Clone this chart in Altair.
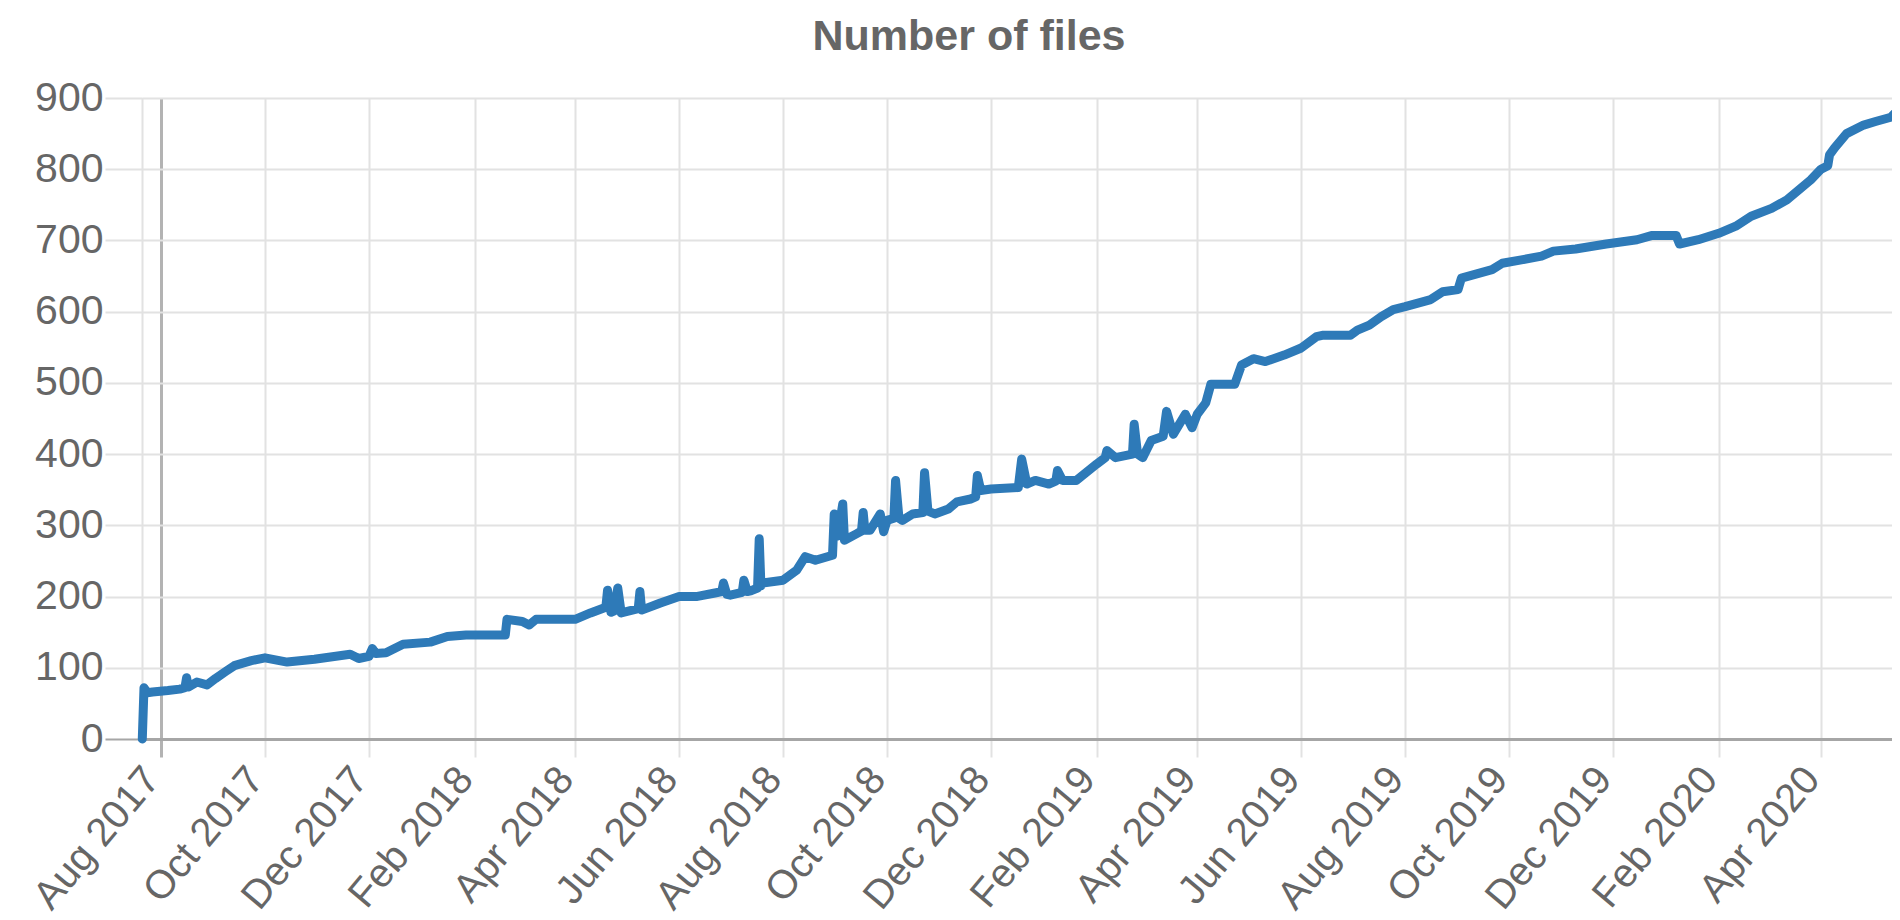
import altair as alt
import pandas as pd

FONT = "Liberation Sans"

dates = [
    "2017-07-21", "2017-07-22", "2017-07-24", "2017-07-27", "2017-08-05", "2017-08-12",
    "2017-08-15", "2017-08-16", "2017-08-17", "2017-08-22", "2017-08-28", "2017-09-02",
    "2017-09-08", "2017-09-13", "2017-09-23", "2017-10-01", "2017-10-14", "2017-10-30",
    "2017-11-20", "2017-11-25", "2017-12-01", "2017-12-03", "2017-12-05", "2017-12-11",
    "2017-12-21", "2018-01-06", "2018-01-16", "2018-01-27", "2018-02-19", "2018-02-20",
    "2018-03-01", "2018-03-05", "2018-03-09", "2018-04-01", "2018-04-10", "2018-04-19",
    "2018-04-20", "2018-04-22", "2018-04-24", "2018-04-26", "2018-04-28", "2018-05-08",
    "2018-05-09", "2018-05-10", "2018-05-21", "2018-06-01", "2018-06-11", "2018-06-22",
    "2018-06-26", "2018-06-27", "2018-06-29", "2018-07-01", "2018-07-08", "2018-07-09",
    "2018-07-11", "2018-07-13", "2018-07-17", "2018-07-18", "2018-07-19", "2018-07-20",
    "2018-08-01", "2018-08-09", "2018-08-14", "2018-08-20", "2018-08-30", "2018-08-31",
    "2018-09-02", "2018-09-05", "2018-09-06", "2018-09-13", "2018-09-16", "2018-09-17",
    "2018-09-18", "2018-09-21", "2018-09-27", "2018-09-29", "2018-10-01", "2018-10-05",
    "2018-10-06", "2018-10-08", "2018-10-10", "2018-10-16", "2018-10-22", "2018-10-23",
    "2018-10-25", "2018-10-29", "2018-11-06", "2018-11-11", "2018-11-19", "2018-11-22",
    "2018-11-23", "2018-11-25", "2018-12-01", "2018-12-17", "2018-12-19", "2018-12-22",
    "2018-12-27", "2019-01-04", "2019-01-08", "2019-01-09", "2019-01-12", "2019-01-20",
    "2019-02-01", "2019-02-06", "2019-02-07", "2019-02-12", "2019-02-22", "2019-02-23",
    "2019-02-25", "2019-02-28", "2019-03-05", "2019-03-12", "2019-03-14", "2019-03-18",
    "2019-03-25", "2019-03-29", "2019-04-01", "2019-04-06", "2019-04-09", "2019-04-23",
    "2019-04-27", "2019-05-04", "2019-05-11", "2019-05-22", "2019-06-01", "2019-06-10",
    "2019-06-14", "2019-06-30", "2019-07-04", "2019-07-11", "2019-07-18", "2019-07-25",
    "2019-08-01", "2019-08-16", "2019-08-23", "2019-09-01", "2019-09-03", "2019-09-12",
    "2019-09-21", "2019-09-27", "2019-10-09", "2019-10-20", "2019-10-27", "2019-11-09",
    "2019-11-27", "2019-12-15", "2019-12-24", "2020-01-07", "2020-01-09", "2020-01-20",
    "2020-02-01", "2020-02-11", "2020-02-20", "2020-03-03", "2020-03-12", "2020-03-19",
    "2020-03-26", "2020-04-01", "2020-04-05", "2020-04-06", "2020-04-09", "2020-04-16",
    "2020-04-26", "2020-05-03", "2020-05-12", "2020-05-15", "2020-05-17",
]

files = [
    0, 72, 65, 66, 68, 70,
    72, 86, 73, 80, 76, 85,
    95, 103, 110, 114, 108, 112,
    119, 113, 116, 127, 120, 121,
    133, 136, 144, 146, 146, 168,
    165, 160, 168, 168, 177, 185,
    209, 178, 180, 212, 177, 183,
    207, 181, 191, 200, 200, 205,
    207, 219, 203, 202, 206, 223,
    207, 208, 212, 281, 215, 219,
    223, 237, 256, 251, 258, 316,
    285, 330, 279, 288, 292, 318,
    293, 293, 316, 291, 307, 310,
    363, 310, 307, 316, 318, 374,
    320, 316, 323, 333, 337, 340,
    370, 349, 351, 353, 393, 358,
    363, 358, 362, 377, 363, 363,
    386, 395, 405, 395, 400, 442,
    400, 395, 419, 425, 460, 428,
    456, 437, 456, 472, 498, 498,
    525, 534, 530, 539, 549, 565,
    567, 567, 574, 581, 593, 603,
    607, 617, 628, 631, 647, 653,
    659, 668, 673, 678, 685, 688,
    695, 701, 707, 707, 695, 701,
    710, 720, 734, 745, 757, 771,
    785, 800, 805, 820, 830, 850,
    862, 867, 873, 880, 890,
]

tick_months = [
    (2017, 8), (2017, 10), (2017, 12), (2018, 2), (2018, 4), (2018, 6),
    (2018, 8), (2018, 10), (2018, 12), (2019, 2), (2019, 4), (2019, 6),
    (2019, 8), (2019, 10), (2019, 12), (2020, 2), (2020, 4),
]
y_ticks = [0, 100, 200, 300, 400, 500, 600, 700, 800, 900]

df = pd.DataFrame({"date": pd.to_datetime(dates), "files": files})

x_values = [alt.DateTime(year=y, month=m, date=1) for y, m in tick_months]

GRID = "#e2e2e2"
DARK = "#b3b3b3"
AXIS = "#a6a6a6"
LABEL = "#666666"

first_tick = "year(datum.value) == 2017 && month(datum.value) == 7"

x_axis = alt.Axis(
    values=x_values,
    format="%b %Y",
    labelAngle=-50,
    labelAlign="right",
    labelBaseline="alphabetic",
    labelFontSize=40,
    labelFont=FONT,
    labelColor=LABEL,
    labelPadding=23,
    labelLimit=500,
    labelFlush=False,
    labelOverlap=False,
    tickSize=18,
    tickWidth={"condition": {"test": first_tick, "value": 3}, "value": 2},
    tickColor={"condition": {"test": first_tick, "value": DARK}, "value": GRID},
    grid=True,
    gridColor={"condition": {"test": first_tick, "value": DARK}, "value": GRID},
    gridWidth={"condition": {"test": first_tick, "value": 3}, "value": 2},
    domainColor=AXIS,
    domainWidth=3,
    title=None,
)

y_axis = alt.Axis(
    values=y_ticks,
    labelFontSize=41,
    labelFont=FONT,
    labelColor=LABEL,
    labelPadding=2,
    tickSize=37,
    tickWidth=2,
    tickColor={"condition": {"test": "datum.value == 0", "value": AXIS}, "value": GRID},
    grid=True,
    gridColor=GRID,
    gridWidth=2,
    domainColor=GRID,
    domainWidth=2,
    title=None,
)

chart = (
    alt.Chart(df)
    .mark_line(
        color="#2e7ab8",
        strokeWidth=9,
        strokeCap="round",
        strokeJoin="round",
        clip=False,
    )
    .encode(
        x=alt.X(
            "date:T",
            axis=x_axis,
            scale=alt.Scale(
                domain=[
                    alt.DateTime(year=2017, month=7, date=20, hours=20),
                    alt.DateTime(year=2020, month=5, date=12, hours=16),
                ]
            ),
        ),
        y=alt.Y(
            "files:Q",
            axis=y_axis,
            scale=alt.Scale(domain=[0, 900], nice=False),
        ),
    )
    .properties(
        width=1750,
        height=641,
        padding={"left": 134, "top": 90, "right": 0, "bottom": 173},
        autosize=alt.AutoSizeParams(type="none"),
        title=alt.Title(
            "Number of files",
            fontSize=43,
            fontWeight="bold",
            color=LABEL,
            font=FONT,
            anchor="middle",
            offset=18,
            dx=-48,
        ),
    )
    .configure_view(stroke=None)
    .configure(background="white")
)

chart.save("out.html", embed_options={"renderer": "svg", "actions": False})
